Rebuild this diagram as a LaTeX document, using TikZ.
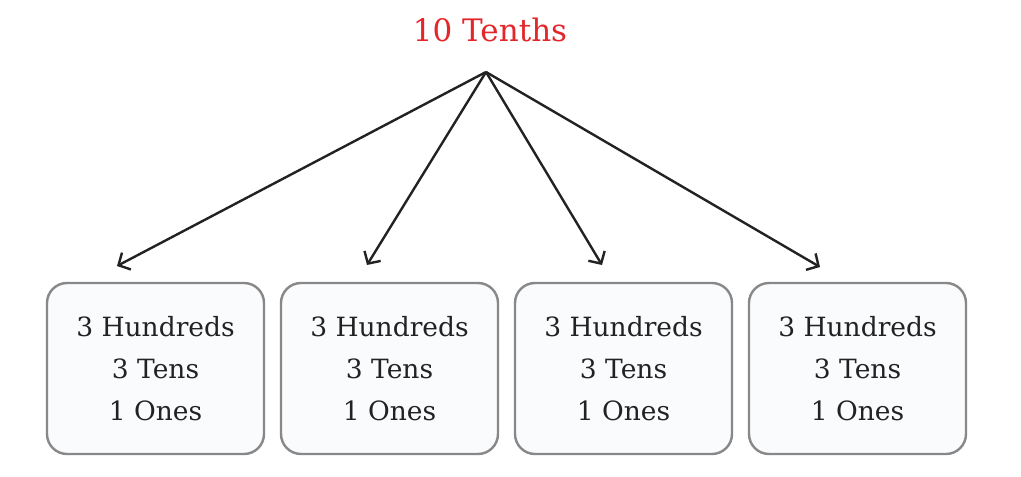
\documentclass[tikz,border=0pt]{standalone}
\usepackage{fontspec}
\setmainfont{DejaVu Serif}
\usetikzlibrary{arrows.meta}
\definecolor{titlered}{HTML}{E3262A}
\definecolor{boxfill}{HTML}{F9FBFD}
\definecolor{boxdraw}{HTML}{888888}
\definecolor{ink}{HTML}{222222}
\tikzset{
  valbox/.style={draw=boxdraw, line width=2.4pt, fill=boxfill, rounded corners=20pt,
    minimum width=217pt, minimum height=171pt, inner sep=0pt, align=center,
    font=\fontsize{26.5}{42}\selectfont, text=ink},
  conn/.style={draw=ink, line width=2.4pt, -{Straight Barb[length=9pt,width=19pt,line width=2.4pt]}}
}
\begin{document}
\begin{tikzpicture}[x=1pt,y=-1pt]
\useasboundingbox (0,0) rectangle (1021,477);
\node[text=titlered, font=\fontsize{31}{36}\selectfont] (title) at (490,30) {10 Tenths};
\coordinate (apex) at (486,72);
\node[valbox] (b1) at (155.5,368.5) {3 Hundreds\\3 Tens\\1 Ones};
\node[valbox] (b2) at (389.5,368.5) {3 Hundreds\\3 Tens\\1 Ones};
\node[valbox] (b3) at (623.5,368.5) {3 Hundreds\\3 Tens\\1 Ones};
\node[valbox] (b4) at (857.5,368.5) {3 Hundreds\\3 Tens\\1 Ones};
\coordinate (t1) at (117,266);
\coordinate (t2) at (367,265);
\coordinate (t3) at (602,265);
\coordinate (t4) at (820,267);
\foreach \i in {1,...,4} \draw[conn] (apex) -- (t\i);
\end{tikzpicture}
\end{document}
